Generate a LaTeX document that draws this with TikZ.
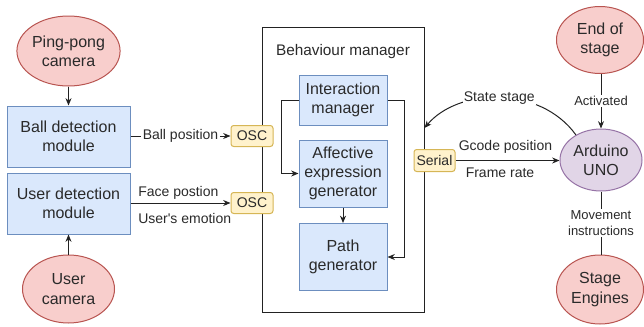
\documentclass[tikz,border=0pt]{standalone}
\usepackage{fontspec}
\setmainfont{Liberation Sans}
\usetikzlibrary{arrows.meta,positioning,calc,shapes.geometric}
\definecolor{redfill}{HTML}{F8CECC}
\definecolor{redline}{HTML}{B85450}
\definecolor{bluefill}{HTML}{DAE8FC}
\definecolor{blueline}{HTML}{6C8EBF}
\definecolor{yelfill}{HTML}{FFF2CC}
\definecolor{yelline}{HTML}{D6B656}
\definecolor{purfill}{HTML}{E1D5E7}
\definecolor{purline}{HTML}{9673A6}
\definecolor{txt}{HTML}{2A2A2A}
\definecolor{edge}{HTML}{222222}
\begin{document}
\begin{tikzpicture}[x=0.75pt,y=-0.75pt,
  every node/.style={text=txt},
  oval/.style={ellipse,draw=redline,fill=redfill,line width=0.75pt,inner sep=0pt,align=center,font=\fontsize{12}{14.4}\selectfont},
  ovalp/.style={oval,draw=purline,fill=purfill},
  blk/.style={rectangle,draw=blueline,fill=bluefill,line width=0.75pt,inner sep=0pt,align=center,font=\fontsize{12}{14.4}\selectfont},
  tag/.style={rectangle,rounded corners=2pt,draw=yelline,fill=yelfill,line width=0.75pt,inner sep=0pt,font=\fontsize{10.5}{12}\selectfont},
  lbl/.style={fill=white,inner sep=1pt,font=\fontsize{10.5}{12.6}\selectfont},
  slbl/.style={fill=white,inner sep=1pt,align=center,font=\fontsize{9.75}{11.5}\selectfont},
  conn/.style={draw=edge,line width=0.75pt},
  arr/.style={conn,-{Stealth[length=5.5pt,width=4.5pt]}}
]
\useasboundingbox (0,0) rectangle (644,326);

% left column
\node[oval,minimum width=69pt,minimum height=52.5pt] (ppc) at (68.5,51) {Ping-pong\\camera};
\node[blk,minimum width=92.25pt,minimum height=45.75pt] (bdm) at (68.5,136.5) {Ball detection\\module};
\node[blk,minimum width=92.25pt,minimum height=45.75pt] (udm) at (68.5,203.5) {User detection\\module};
\node[oval,minimum width=69pt,minimum height=51pt] (uc) at (68.5,289) {User\\camera};

% behaviour manager
\node[rectangle,draw=edge,fill=white,line width=0.75pt,minimum width=121.5pt,minimum height=213.75pt,inner sep=0pt] (bm) at (343,169.5) {};
\node[font=\fontsize{11.5}{13.8}\selectfont] (bmt) at (343,52) {Behaviour manager};
\node[blk,minimum width=66pt,minimum height=37.5pt] (im) at (343,100) {Interaction\\manager};
\node[blk,minimum width=66pt,minimum height=50.25pt] (aeg) at (343,173.5) {Affective\\expression\\generator};
\node[blk,minimum width=66pt,minimum height=50.25pt] (pg) at (343,257) {Path\\generator};

% tags
\node[tag,minimum width=31.5pt,minimum height=15.75pt] (osc1) at (252,136) {OSC};
\node[tag,minimum width=31.5pt,minimum height=15.75pt] (osc2) at (252,203) {OSC};
\node[tag,minimum width=30.75pt,minimum height=16.5pt] (ser) at (434.5,160.5) {Serial};

% right column
\node[oval,minimum width=65.25pt,minimum height=50.25pt] (eos) at (600,40) {End of\\stage};
\node[ovalp,minimum width=61.5pt,minimum height=46.5pt] (ard) at (601,160) {Arduino\\UNO};
\node[oval,minimum width=65.25pt,minimum height=51.75pt] (se) at (600,289.5) {Stage\\Engines};

% connectors left
\draw[arr] (ppc) -- (ppc |- bdm.north);
\draw[arr] (uc) -- (uc |- udm.south);
\draw[arr] (bdm.east |- osc1) -- node[lbl] (bpl) {Ball position} (osc1.west);
\draw[arr] (udm.east |- osc2) -- (osc2.west);
\node[lbl,anchor=west,inner sep=0pt] (fpl) at (138,193) {Face postion};
\node[lbl,anchor=west,inner sep=0pt] (uel) at (138,218) {User\textquotesingle s emotion};

% inside behaviour manager
\draw[arr] (im.west) -- ++(-17,0) |- (aeg.west);
\draw[arr] (im.east) -- ++(17,0) |- (pg.east);
\draw[arr] (aeg.south) -- (pg.north);

% right connectors
\draw[arr] (ser.east) -- (ard.west |- ser.east);
\node[lbl,inner sep=0pt] (gcl) at (505.5,147) {Gcode position};
\node[lbl,inner sep=0pt] (frl) at (500,173) {Frame rate};
\coordinate (ssend) at (424.5,128);
\draw[arr] (ard.135) .. controls (540,85) and (458,88) .. node[lbl,pos=0.5] (ssl) {State stage} (ssend);
\draw[arr] (eos.south -| ard) -- node[slbl] (actl) {Activated} (ard.north);
\draw[conn] (ard.south) -- node[slbl] (mil) {Movement\\instructions} (ard.south |- se.north);
\end{tikzpicture}
\end{document}
